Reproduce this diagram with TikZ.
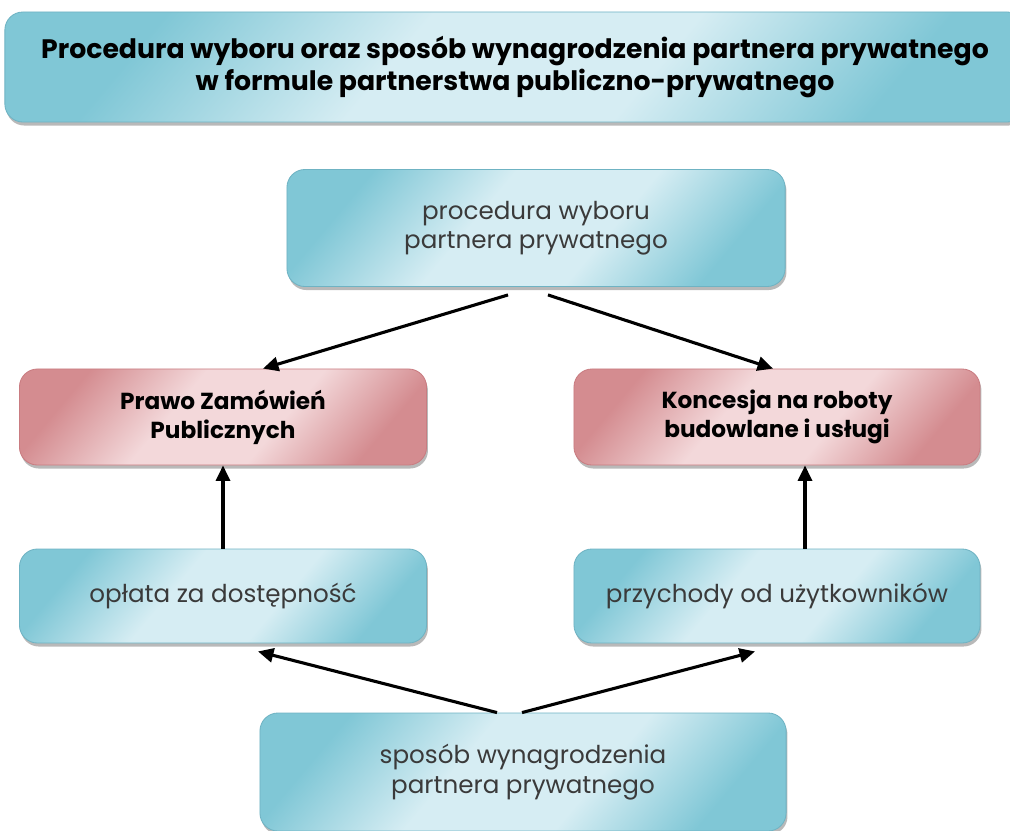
\documentclass[tikz,border=0pt]{standalone}
\usepackage{fontspec}
\setmainfont{Poppins}
\usepackage{xcolor}
\usetikzlibrary{positioning, calc, arrows.meta, shadows}

\definecolor{bluedark}{HTML}{80C7D6}
\definecolor{bluelight}{HTML}{D6EDF3}
\definecolor{bluerim}{HTML}{6FB3C3}
\definecolor{reddark}{HTML}{D48C90}
\definecolor{redlight}{HTML}{F3D8DA}
\definecolor{redrim}{HTML}{C97C81}
\definecolor{txtgray}{HTML}{3A3A3A}

% diagonal glossy fills
\pgfdeclareverticalshading{bandblue}{100bp}{color(0bp)=(bluedark); color(25bp)=(bluedark);
    color(41bp)=(bluelight); color(58bp)=(bluelight); color(75bp)=(bluedark); color(100bp)=(bluedark)}
\pgfdeclareverticalshading{bandred}{100bp}{color(0bp)=(reddark); color(25bp)=(reddark);
    color(41bp)=(redlight); color(58bp)=(redlight); color(75bp)=(reddark); color(100bp)=(reddark)}

\tikzset{
    box/.style={rounded corners=0.45cm, align=center, inner sep=0pt,
        draw, line width=0.6pt,
        drop shadow={shadow xshift=1pt, shadow yshift=-2.5pt, fill=black!50, opacity=0.55}},
    bluebox/.style={box, draw=bluerim, shading=bandblue, shading angle=50, text=txtgray,
        font=\fontsize{17.5}{21}\selectfont},
    redbox/.style={box, draw=redrim, shading=bandred, shading angle=50, text=black,
        font=\bfseries\fontsize{16.5}{20.5}\selectfont},
    link/.style={line width=2.2pt, -{Triangle[length=11pt, width=10pt]}}
}

\begin{document}
\begin{tikzpicture}[x=0.025cm, y=-0.025cm]

    % Page frame (pixels of the reference)
    \useasboundingbox (0,0) rectangle (1010,830);

    % --- TITLE ---
    \node[bluebox, text=black, font=\bfseries\fontsize{19}{22.5}\selectfont,
          minimum width=25.5cm, minimum height=2.75cm] (title) at (515,67)
        {Procedura wyboru oraz sposób wynagrodzenia partnera prywatnego\\
         w formule partnerstwa publiczno-prywatnego};

    % --- TOP ---
    \node[bluebox, minimum width=12.45cm, minimum height=2.925cm] (proc) at (536,228)
        {procedura wyboru\\partnera prywatnego};

    % --- MIDDLE ROW (legal basis) ---
    \node[redbox, minimum width=10.175cm, minimum height=2.4cm] (pzp) at (223,417)
        {Prawo Zamówień\\Publicznych};
    \node[redbox, minimum width=10.15cm, minimum height=2.4cm] (konc) at (777,417)
        {Koncesja na roboty\\budowlane i usługi};

    % --- LOWER ROW (payment) ---
    \node[bluebox, minimum width=10.175cm, minimum height=2.35cm] (oplata) at (223,596)
        {opłata za dostępność};
    \node[bluebox, minimum width=10.15cm, minimum height=2.35cm] (przych) at (777,596)
        {przychody od użytkowników};

    % --- BOTTOM ---
    \node[bluebox, minimum width=13.15cm, minimum height=2.95cm] (sposob) at (523,772)
        {sposób wynagrodzenia\\partnera prywatnego};

    % Arrows from the selection procedure
    \draw[link] ($(proc.south)+(-28,8)$) -- ($(pzp.north)+(40,0)$);
    \draw[link] ($(proc.south)+(12,8)$) -- ($(konc.north)+(-4,0)$);

    % Vertical arrows
    \draw[link] (oplata.north) -- (pzp.south);
    \draw[link] ($(przych.north)+(28,0)$) -- ($(konc.south)+(28,0)$);

    % Arrows from the payment box
    \draw[link] ($(sposob.north)+(-26,0)$) -- ($(oplata.south)+(35,8)$);
    \draw[link] ($(sposob.north)+(-1,0)$) -- ($(przych.south)+(-22,8)$);

\end{tikzpicture}
\end{document}
